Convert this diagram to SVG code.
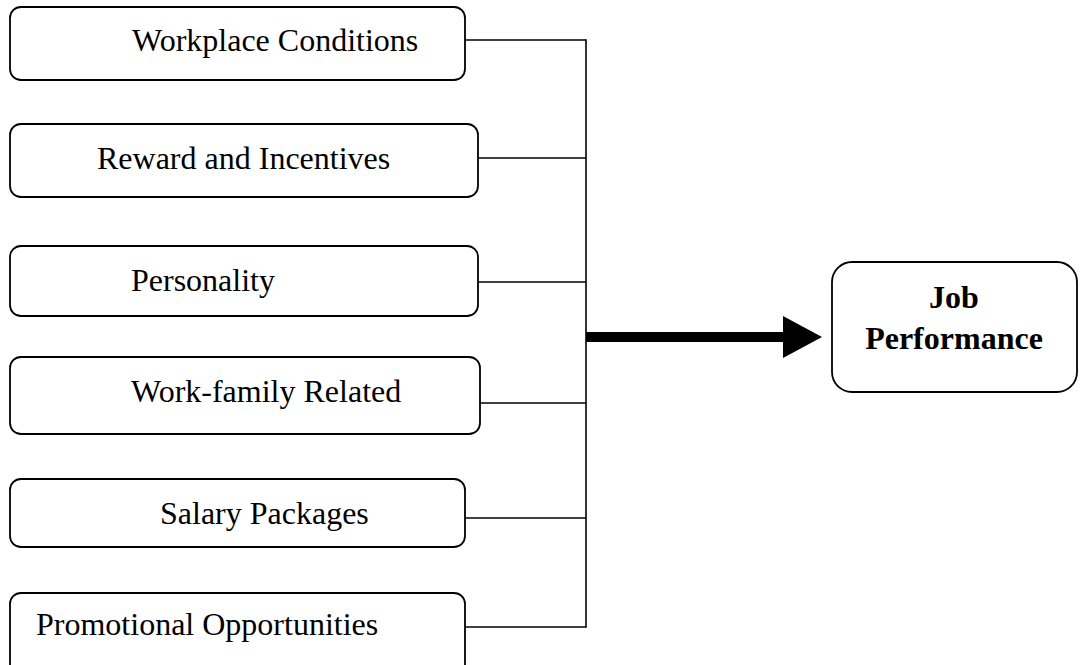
<svg xmlns="http://www.w3.org/2000/svg" width="1084" height="665" viewBox="0 0 1084 665">
<style>
.box{fill:#fff;stroke:#000;stroke-width:1.8}
.t{font-family:"Liberation Serif","Times New Roman",serif;font-size:32px;fill:#000}
.tb{font-family:"Liberation Serif","Times New Roman",serif;font-size:32px;font-weight:bold;fill:#000;text-anchor:middle}
.c{stroke:#000;stroke-width:1.6;fill:none}
</style>
<rect width="1084" height="665" fill="#fff"/>
<g id="connectors">
<line class="c" x1="465" y1="40" x2="586" y2="40"/>
<line class="c" x1="479" y1="158" x2="586" y2="158"/>
<line class="c" x1="479" y1="282" x2="586" y2="282"/>
<line class="c" x1="480" y1="403" x2="586" y2="403"/>
<line class="c" x1="465" y1="518" x2="586" y2="518"/>
<line class="c" x1="465" y1="627" x2="586" y2="627"/>
<line class="c" x1="586" y1="39.2" x2="586" y2="627.8"/>
<line x1="586" y1="337" x2="785" y2="337" stroke="#000" stroke-width="10"/>
<polygon points="783,316 822,337 783,358" fill="#000"/>
</g>
<g id="n1"><rect class="box" x="10" y="7" width="455" height="73" rx="11"/><text class="t" x="132" y="51">Workplace Conditions</text></g>
<g id="n2"><rect class="box" x="10" y="124" width="468" height="73" rx="11"/><text class="t" x="97" y="169">Reward and Incentives</text></g>
<g id="n3"><rect class="box" x="10" y="246" width="468" height="70" rx="11"/><text class="t" x="131" y="291">Personality</text></g>
<g id="n4"><rect class="box" x="10" y="357" width="470" height="77" rx="11"/><text class="t" x="131" y="402">Work-family Related</text></g>
<g id="n5"><rect class="box" x="10" y="479" width="455" height="68" rx="11"/><text class="t" x="160" y="524">Salary Packages</text></g>
<g id="n6"><rect class="box" x="10" y="593" width="455" height="90" rx="11"/><text class="t" x="36" y="635">Promotional Opportunities</text></g>
<g id="n7"><rect class="box" x="832" y="262" width="245" height="130" rx="20"/><text class="tb" x="954" y="308">Job</text><text class="tb" x="954" y="349">Performance</text></g>
</svg>
